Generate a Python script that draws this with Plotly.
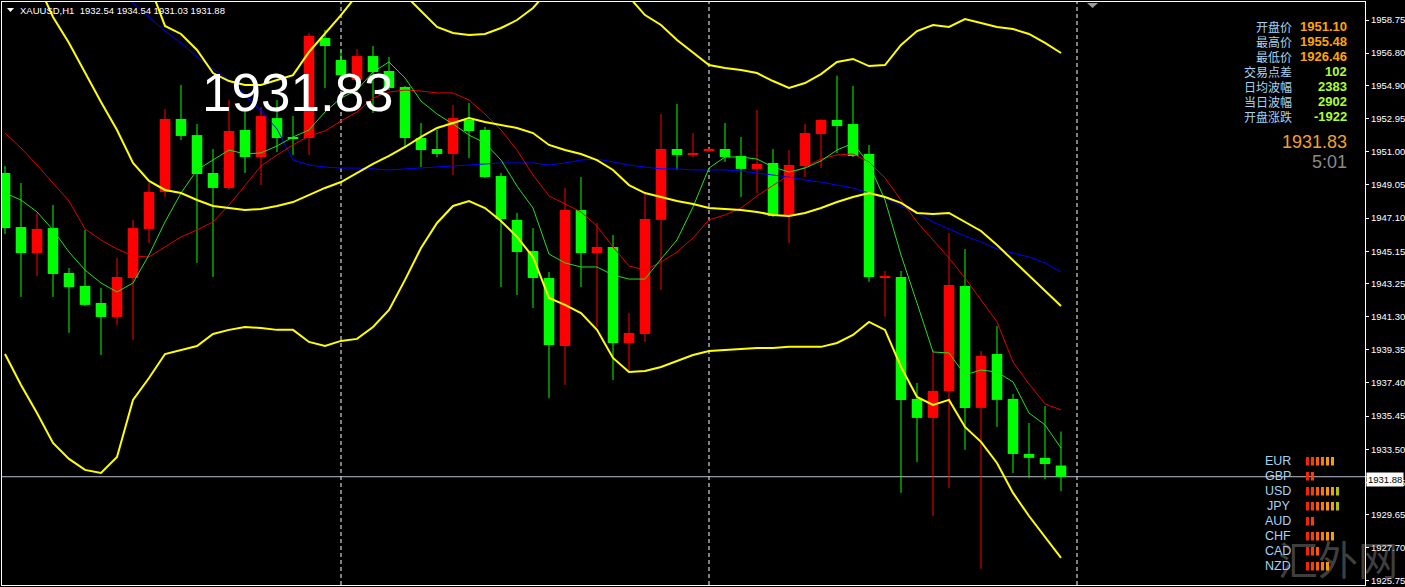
import plotly.graph_objects as go

# ---------------- data ----------------
symbol = "XAUUSD,H1"

opens = [1949.75, 1946.57, 1945.04, 1946.51, 1943.87, 1943.10, 1942.10, 1941.28, 1943.57, 1946.46,
         1948.63, 1952.93, 1951.98, 1949.75, 1948.87, 1952.28, 1950.69, 1952.98, 1951.87, 1951.81,
         1957.69, 1956.40, 1955.22, 1956.63, 1955.75, 1954.81, 1951.81, 1951.16, 1950.87, 1952.87,
         1952.28, 1949.57, 1946.99, 1945.16, 1943.57, 1939.57, 1947.57, 1945.04, 1945.40, 1939.75,
         1940.28, 1946.99, 1951.16, 1950.81, 1951.10, 1951.16, 1950.75, 1949.99, 1950.34, 1947.22,
         1950.16, 1952.04, 1952.87, 1952.63, 1950.87, 1943.61, 1943.63, 1936.46, 1935.34, 1936.93,
         1943.10, 1935.93, 1939.10, 1936.46, 1933.22, 1932.99, 1932.54]
highs = [1950.16, 1949.16, 1947.40, 1947.87, 1944.16, 1946.40, 1942.99, 1944.75, 1946.99, 1949.16,
         1953.51, 1954.93, 1952.63, 1951.16, 1954.04, 1953.46, 1953.63, 1954.04, 1953.10, 1957.99,
         1958.16, 1956.99, 1957.04, 1957.22, 1956.57, 1954.87, 1952.69, 1952.28, 1953.75, 1953.87,
         1952.46, 1949.75, 1947.40, 1946.51, 1943.93, 1948.87, 1949.51, 1946.81, 1946.10, 1941.51,
         1948.57, 1953.22, 1953.81, 1952.10, 1951.22, 1952.69, 1951.87, 1953.46, 1951.16, 1951.10,
         1952.63, 1952.93, 1955.48, 1954.87, 1951.40, 1943.99, 1943.99, 1937.40, 1939.34, 1946.22,
         1945.28, 1939.28, 1940.75, 1936.75, 1935.04, 1936.04, 1934.54]
lows = [1946.16, 1942.46, 1943.69, 1942.46, 1940.34, 1941.93, 1939.04, 1940.81, 1939.93, 1945.63,
        1948.34, 1951.69, 1944.46, 1943.63, 1948.75, 1949.75, 1949.04, 1950.98, 1950.81, 1950.81,
        1954.75, 1954.63, 1954.51, 1953.28, 1954.63, 1951.22, 1950.10, 1950.69, 1949.63, 1950.63,
        1949.46, 1943.04, 1942.57, 1941.81, 1936.51, 1937.28, 1943.04, 1940.69, 1937.57, 1938.16,
        1939.81, 1942.87, 1949.93, 1950.69, 1950.98, 1950.40, 1948.34, 1948.57, 1947.16, 1945.63,
        1949.51, 1950.04, 1950.93, 1950.69, 1943.34, 1941.28, 1930.93, 1932.75, 1929.57, 1931.22,
        1933.46, 1926.46, 1934.81, 1932.10, 1931.81, 1931.75, 1931.03]
closes = [1946.51, 1945.04, 1946.46, 1943.81, 1943.04, 1941.99, 1941.28, 1943.63, 1946.51, 1948.63,
          1952.93, 1951.93, 1949.69, 1948.87, 1952.22, 1950.69, 1953.10, 1951.81, 1951.78, 1957.81,
          1957.22, 1955.51, 1956.63, 1955.69, 1954.75, 1951.81, 1951.10, 1950.87, 1952.98, 1952.22,
          1949.51, 1947.04, 1945.10, 1943.57, 1939.63, 1947.57, 1945.04, 1945.40, 1939.75, 1940.34,
          1947.04, 1951.16, 1950.81, 1950.93, 1951.16, 1950.69, 1949.99, 1950.28, 1947.22, 1950.22,
          1952.10, 1952.87, 1952.51, 1950.75, 1943.63, 1943.69, 1936.40, 1935.34, 1936.93, 1943.16,
          1935.93, 1938.99, 1936.40, 1933.22, 1932.99, 1932.63, 1931.88]

bb_upper = [1989.0, 1987.9, 1986.3, 1984.0, 1981.9, 1979.0, 1975.8, 1971.5, 1964.3, 1960.87,
            1958.40, 1957.93, 1956.99, 1955.63, 1955.16, 1954.93, 1954.93, 1955.22, 1955.51, 1956.87,
            1957.93, 1959.04, 1960.22, 1961.10, 1960.81, 1960.22, 1959.28, 1958.34, 1957.99, 1957.87,
            1957.93, 1958.28, 1958.75, 1959.46, 1960.52, 1961.10, 1961.40, 1961.40, 1960.81, 1960.11,
            1959.04, 1958.46, 1957.57, 1956.81, 1956.10, 1955.93, 1955.81, 1955.63, 1955.16, 1954.75,
            1955.04, 1955.57, 1956.28, 1956.46, 1956.04, 1956.10, 1957.28, 1958.10, 1958.46, 1958.34,
            1958.81, 1958.57, 1958.34, 1958.22, 1957.93, 1957.40, 1956.81]
bb_middle = [1964.04, 1962.57, 1960.98, 1958.93, 1957.40, 1955.63, 1953.93, 1952.28, 1950.34, 1949.28,
             1948.75, 1948.57, 1948.16, 1947.81, 1947.69, 1947.57, 1947.63, 1947.81, 1948.04, 1948.46,
             1948.87, 1949.22, 1949.75, 1950.28, 1950.75, 1951.28, 1951.87, 1952.40, 1952.69, 1952.98,
             1952.75, 1952.57, 1952.40, 1952.10, 1951.40, 1951.10, 1950.87, 1950.51, 1949.93, 1949.04,
             1948.57, 1948.34, 1948.10, 1947.93, 1947.69, 1947.63, 1947.57, 1947.46, 1947.28, 1947.22,
             1947.40, 1947.69, 1948.04, 1948.34, 1948.57, 1948.34, 1947.99, 1947.40, 1947.34, 1947.40,
             1946.87, 1946.34, 1945.51, 1944.63, 1943.75, 1942.87, 1941.93]
bb_lower = [1939.10, 1937.28, 1935.63, 1933.87, 1932.93, 1932.28, 1932.10, 1933.04, 1936.40, 1937.69,
            1939.10, 1939.34, 1939.57, 1940.28, 1940.52, 1940.69, 1940.63, 1940.52, 1940.52, 1939.81,
            1939.57, 1939.87, 1939.99, 1940.69, 1941.69, 1943.46, 1945.34, 1946.81, 1947.81, 1948.10,
            1947.69, 1946.93, 1945.99, 1944.81, 1942.40, 1941.99, 1941.51, 1940.52, 1938.87, 1938.04,
            1938.10, 1938.34, 1938.69, 1939.04, 1939.28, 1939.34, 1939.40, 1939.46, 1939.46, 1939.52,
            1939.52, 1939.52, 1939.75, 1940.22, 1940.99, 1940.52, 1938.34, 1936.57, 1936.10, 1936.40,
            1934.81, 1933.93, 1932.69, 1930.93, 1929.57, 1928.34, 1927.10]
ma_blue = [1966.57, 1965.75, 1964.87, 1964.04, 1963.16, 1962.34, 1961.46, 1960.63, 1959.75, 1958.93,
           1958.10, 1957.40, 1956.57, 1955.87, 1955.22, 1954.34, 1953.40, 1952.34, 1950.51, 1950.22,
           1950.10, 1950.04, 1950.04, 1949.99, 1949.93, 1949.99, 1950.04, 1950.10, 1950.16, 1950.22,
           1950.28, 1950.34, 1950.34, 1950.34, 1950.22, 1950.34, 1950.51, 1950.57, 1950.40, 1950.22,
           1950.10, 1949.99, 1949.99, 1949.93, 1949.93, 1949.93, 1949.87, 1949.75, 1949.63, 1949.51,
           1949.34, 1949.22, 1949.04, 1948.87, 1948.57, 1948.28, 1947.81, 1947.40, 1946.87, 1946.46,
           1946.04, 1945.69, 1945.28, 1945.04, 1944.81, 1944.46, 1943.93]
ma_red = [1952.10, 1951.22, 1950.22, 1949.16, 1948.10, 1946.46, 1945.81, 1945.28, 1944.87, 1944.81,
          1945.40, 1945.99, 1946.40, 1946.87, 1947.87, 1949.04, 1950.16, 1950.81, 1951.40, 1951.93,
          1952.22, 1952.81, 1953.34, 1954.16, 1954.51, 1954.63, 1954.57, 1954.46, 1954.46, 1954.04,
          1953.22, 1952.28, 1951.10, 1949.63, 1948.40, 1947.93, 1947.46, 1946.63, 1945.40, 1944.28,
          1944.04, 1944.51, 1945.10, 1945.93, 1946.99, 1947.28, 1947.69, 1948.40, 1949.04, 1949.63,
          1950.10, 1950.57, 1950.81, 1950.87, 1950.40, 1949.46, 1948.16, 1946.87, 1945.81, 1944.75,
          1943.57, 1942.28, 1940.99, 1938.63, 1937.34, 1936.16, 1935.81]
ma_green = [1948.57, 1948.16, 1947.46, 1946.40, 1945.10, 1944.04, 1943.28, 1942.75, 1943.28, 1944.93,
            1946.87, 1948.57, 1949.93, 1950.51, 1951.10, 1950.87, 1950.93, 1951.34, 1951.87, 1952.28,
            1953.34, 1954.16, 1954.63, 1955.69, 1956.28, 1955.34, 1953.98, 1953.22, 1952.63, 1951.98,
            1951.51, 1950.51, 1948.98, 1947.69, 1944.98, 1944.46, 1944.22, 1944.22, 1943.75, 1943.51,
            1943.51, 1944.69, 1945.81, 1947.75, 1950.04, 1950.69, 1950.69, 1950.57, 1950.10, 1949.81,
            1950.04, 1950.46, 1951.10, 1951.51, 1950.28, 1948.16, 1944.93, 1942.10, 1939.22, 1939.16,
            1937.87, 1938.16, 1938.04, 1937.46, 1935.63, 1934.93, 1933.57]

y_tick_vals = [1958.75, 1956.80, 1954.90, 1952.95, 1951.00, 1949.05, 1947.10, 1945.15, 1943.25,
               1941.30, 1939.35, 1937.40, 1935.45, 1933.50, 1931.55, 1929.65, 1927.70, 1925.75]
day_starts = [21, 44, 67]
bid_price = 1931.83
timer_text = "5:01"
info_labels = ["开盘价", "最高价", "最低价", "交易点差", "日均波幅", "当日波幅", "开盘涨跌"]
info_values = ["1951.10", "1955.48", "1926.46", "102", "2383", "2902", "-1922"]
currencies = ["EUR", "GBP", "USD", "JPY", "AUD", "CHF", "CAD", "NZD"]
currency_strength = [6, 2, 7, 7, 2, 6, 3, 5]

# ---------------- styling / layout ----------------
W, H = 1405, 587
PL, PR, PT, PB = 2, 1365, 2, 585
X_RANGE = [-0.1875, 85.0]
Y_RANGE = [1925.51, 1959.81]
UP_COL, DN_COL = "#ff0000", "#00ff00"
LABEL_BLUE = "#a9d2f0"
FONT = "Liberation Sans"


def fx(px):
    return (px - PL) / (PR - PL)


def fy(py):
    return 1 - (py - PT) / (PB - PT)


fig = go.Figure()
n = len(opens)
xs = list(range(n))

# wicks
for col, cond in ((UP_COL, True), (DN_COL, False)):
    wx, wy = [], []
    for i in xs:
        if (closes[i] >= opens[i]) == cond:
            wx += [i, i, None]
            wy += [lows[i], highs[i], None]
    fig.add_trace(go.Scatter(x=wx, y=wy, mode="lines", line=dict(color=col, width=1),
                             hoverinfo="skip"))

# bodies
bases = [min(o, c) for o, c in zip(opens, closes)]
heights = [max(abs(c - o), 0.07) for o, c in zip(opens, closes)]
colors = [UP_COL if c >= o else DN_COL for o, c in zip(opens, closes)]
fig.add_trace(go.Bar(x=xs, y=heights, base=bases, width=0.66,
                     marker=dict(color=colors, line=dict(width=0)), hoverinfo="skip"))

# indicator lines
for series, col, w in ((ma_blue, "#0000ff", 1), (ma_red, "#e00000", 1), (ma_green, "#20e020", 1),
                       (bb_upper, "#ffff00", 2), (bb_middle, "#ffff00", 2), (bb_lower, "#ffff00", 2)):
    fig.add_trace(go.Scatter(x=xs, y=series, mode="lines", line=dict(color=col, width=w),
                             hoverinfo="skip"))

shapes = []
for d in day_starts:
    shapes.append(dict(type="line", xref="x", yref="paper", x0=d, x1=d, y0=0, y1=1,
                       line=dict(color="white", width=1, dash="4px,3px"), layer="below"))
shapes.append(dict(type="line", xref="paper", yref="y", x0=0, x1=1.003, y0=closes[-1], y1=closes[-1],
                   line=dict(color="#b8c0cc", width=1), layer="below"))
# chart shift marker
shapes.append(dict(type="path", xref="paper", yref="paper",
                   path=f"M {fx(1087)} {fy(3)} L {fx(1098)} {fy(3)} L {fx(1092.5)} {fy(8)} Z",
                   fillcolor="#9a9a9a", line=dict(width=0)))
# header triangle
shapes.append(dict(type="path", xref="paper", yref="paper",
                   path=f"M {fx(7)} {fy(8)} L {fx(14)} {fy(8)} L {fx(10.5)} {fy(12)} Z",
                   fillcolor="white", line=dict(width=0)))

bar_cols = ["#ff2000", "#ff3c00", "#ff5a00", "#ff7800", "#ff9600", "#e0aa00", "#b4c000", "#90c800"]
ann = []
for k, (cur, s) in enumerate(zip(currencies, currency_strength)):
    yc = 461 + 15 * k
    ann.append(dict(text=cur, x=fx(1293), y=fy(yc), xanchor="right", yanchor="middle",
                    font=dict(family=FONT, size=12.5, color=LABEL_BLUE)))
    for b in range(s):
        x0 = 1306 + 5 * b
        shapes.append(dict(type="rect", xref="paper", yref="paper",
                           x0=fx(x0), x1=fx(x0 + 3), y0=fy(yc + 4.5), y1=fy(yc - 4),
                           fillcolor=bar_cols[b], line=dict(width=0)))

# watermark
ann.append(dict(text="汇外网", x=fx(1338), y=fy(558), xanchor="center", yanchor="middle",
                font=dict(family="Noto Sans CJK SC", size=40, color="rgba(170,170,170,0.38)")))

# header
ann.append(dict(text=f"{symbol}\u00a0\u00a0{opens[-1]:.2f} {highs[-1]:.2f} {lows[-1]:.2f} {closes[-1]:.2f}",
                x=fx(18), y=fy(10), xanchor="left", yanchor="middle",
                font=dict(family=FONT, size=9.5, color="white")))
# big bid text
ann.append(dict(text=f"{bid_price:.2f}", x=fx(298), y=fy(92), xanchor="center", yanchor="middle",
                font=dict(family=FONT, size=53, color="white")))

# info panel
for k, (lab, val) in enumerate(zip(info_labels, info_values)):
    yc = 26.5 + 15 * k
    ann.append(dict(text=lab, x=fx(1294), y=fy(yc), xanchor="right", yanchor="middle",
                    font=dict(family="Noto Sans CJK SC", size=12, color=LABEL_BLUE)))
    ann.append(dict(text=f"<b>{val}</b>", x=fx(1349), y=fy(yc), xanchor="right", yanchor="middle",
                    font=dict(family=FONT, size=13, color="#ffa500" if k < 3 else "#adff2f")))
ann.append(dict(text=f"{bid_price:.2f}", x=fx(1349), y=fy(142), xanchor="right", yanchor="middle",
                font=dict(family=FONT, size=18, color="#f0a030")))
ann.append(dict(text=timer_text, x=fx(1349), y=fy(162), xanchor="right", yanchor="middle",
                font=dict(family=FONT, size=18, color="#8a8a8a")))

# current price label on the axis
ann.append(dict(text=f"{closes[-1]:.2f}", x=fx(1366), y=fy(479), xanchor="left", yanchor="middle",
                font=dict(family=FONT, size=9.5, color="black"), bgcolor="white", borderpad=1))

for a in ann:
    a.setdefault("xref", "paper")
    a.setdefault("yref", "paper")
    a.setdefault("showarrow", False)

fig.update_layout(
    template="none",
    width=W, height=H,
    margin=dict(l=PL, r=W - PR, t=PT, b=H - PB, pad=0),
    paper_bgcolor="black", plot_bgcolor="black",
    showlegend=False, barmode="overlay",
    xaxis=dict(range=X_RANGE, showgrid=False, zeroline=False, showticklabels=False, ticks="",
               showline=True, linecolor="white", linewidth=1, mirror=True, automargin=False),
    yaxis=dict(range=Y_RANGE, side="right", tickvals=y_tick_vals,
               ticktext=[f"{v:.2f}" for v in y_tick_vals], ticks="outside", ticklen=3,
               tickcolor="white", tickwidth=1,
               tickfont=dict(family=FONT, size=9.5, color="white"),
               showgrid=False, zeroline=False, showline=True, linecolor="white", linewidth=1,
               mirror=True, automargin=False),
    shapes=shapes, annotations=ann,
)

fig.write_html(
    "out.html",
    config={"displayModeBar": False},
    post_script="document.body.style.margin='0';document.body.style.padding='0';"
                "document.body.style.overflow='hidden';document.body.style.background='black';",
)
